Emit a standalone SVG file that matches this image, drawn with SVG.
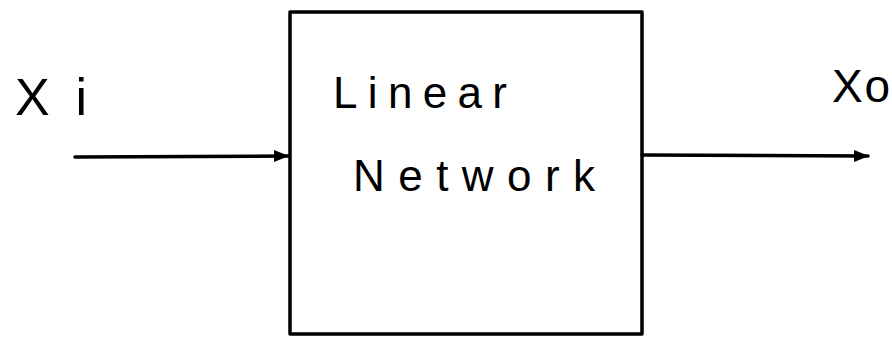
<svg xmlns="http://www.w3.org/2000/svg" width="892" height="340" viewBox="0 0 892 340">
<style>
.ln{stroke:#000;stroke-width:3.5;fill:none;stroke-linecap:round;stroke-linejoin:round}
.t{font-family:"Liberation Sans",Arial,sans-serif;fill:#000}
</style>
<defs>
<marker id="ah" markerWidth="16" markerHeight="14" refX="14" refY="7" orient="auto" markerUnits="userSpaceOnUse">
<path d="M0,1 L15,7 L0,13 Z" fill="#000"/>
</marker>
</defs>
<rect width="892" height="340" fill="#fff"/>
<g id="network">
<rect class="ln" x="290" y="12" width="352" height="322"/>
<text class="t" x="333" y="108" font-size="44" textLength="174" lengthAdjust="spacing">Linear</text>
<text class="t" x="353" y="191" font-size="44" textLength="242" lengthAdjust="spacing">Network</text>
</g>
<g id="labels">
<text class="t" x="15" y="115" font-size="52" textLength="72" lengthAdjust="spacing">Xi</text>
<text class="t" x="832" y="102" font-size="46" textLength="58" lengthAdjust="spacing">Xo</text>
</g>
<g id="connectors">
<line class="ln" x1="75" y1="157" x2="288" y2="156" marker-end="url(#ah)"/>
<line class="ln" x1="642" y1="155" x2="868" y2="156" marker-end="url(#ah)"/>
</g>
</svg>
